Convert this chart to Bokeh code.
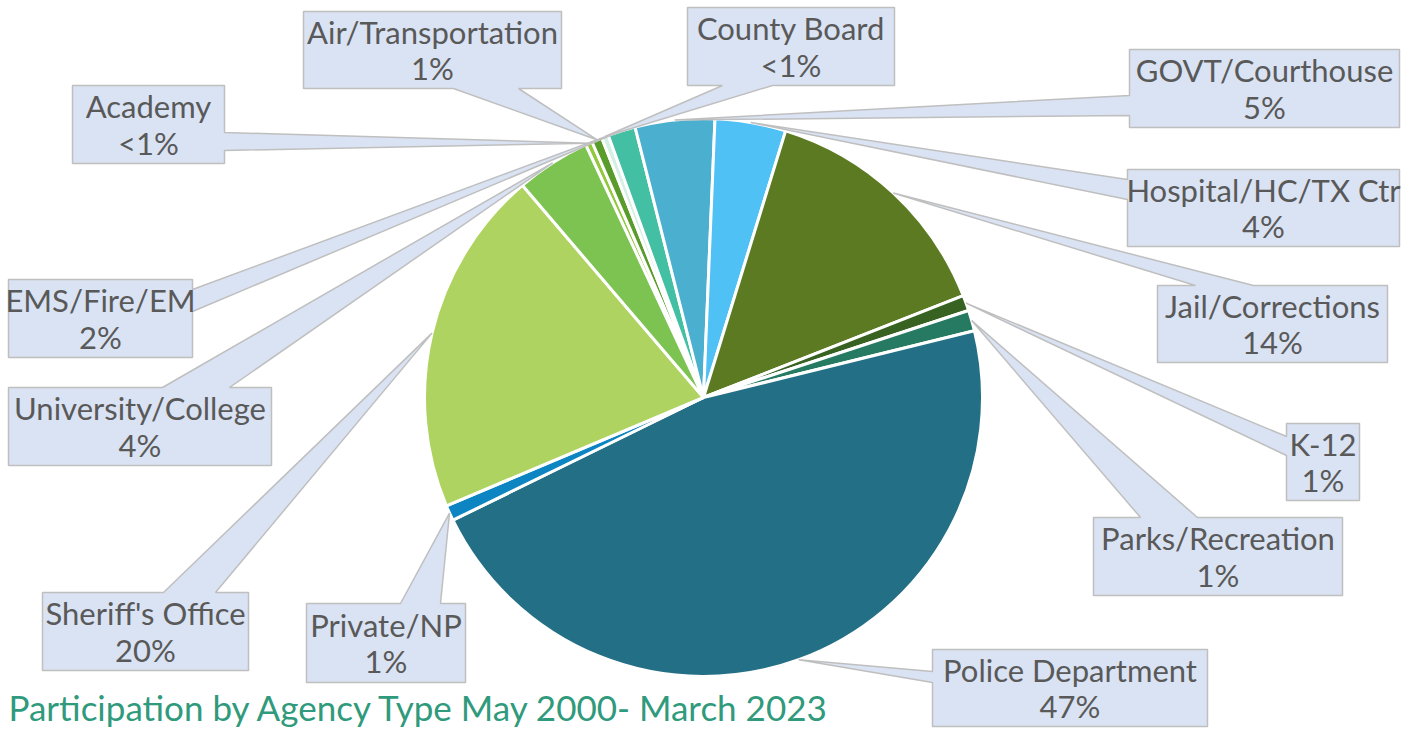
import math
from bokeh.plotting import figure
from bokeh.models import Range1d
from bokeh.core.properties import value
from bokeh.embed import file_html
from bokeh.resources import INLINE

# ---------------- data ----------------
categories = ["Academy", "Air/Transportation", "County Board", "EMS/Fire/EM",
              "GOVT/Courthouse", "Hospital/HC/TX Ctr", "Jail/Corrections", "K-12",
              "Parks/Recreation", "Police Department", "Private/NP",
              "Sheriff's Office", "University/College"]
shares = [0.4, 0.6, 0.4, 1.6, 4.6, 4.1, 14.3, 0.9, 1.2, 46.6, 0.9, 20.1, 4.3]
pct_labels = ["<1%", "1%", "<1%", "2%", "5%", "4%", "14%", "1%", "1%",
              "47%", "1%", "20%", "4%"]
colors = ["#93c83e", "#5a9c2c", "#d4efe3", "#43bfa3", "#4bafd0", "#4fc1f5",
          "#5b7a21", "#386222", "#277a62", "#236f85", "#0d85c2", "#aed360",
          "#7dc352"]
title_text = "Participation by Agency Type May 2000- March 2023"

# ---------------- layout (reference pixel coords, y downward) ----------------
H = 744
CX, CY, R = 703, 397, 279
FIRST_ANGLE = 335.0  # clockwise from 12 o'clock

# left, top, right, bottom, pointer side, base a, base b
boxes = {
    "Academy":            (72, 85, 224, 163, "right", 132, 150),
    "Air/Transportation": (303, 11, 561, 88, "bottom", 453, 518),
    "County Board":       (687, 7, 894, 85, "bottom", 722, 772),
    "EMS/Fire/EM":        (8, 279, 192, 357, "right", 289, 311),
    "GOVT/Courthouse":    (1129, 49, 1399, 127, "left", 95, 115),
    "Hospital/HC/TX Ctr": (1127, 169, 1399, 246, "left", 179, 199),
    "Jail/Corrections":   (1157, 285, 1387, 362, "top", 1195, 1253),
    "K-12":               (1286, 423, 1359, 500, "left", 436, 455),
    "Parks/Recreation":   (1093, 517, 1342, 595, "top", 1140, 1197),
    "Police Department":  (932, 649, 1207, 726, "left", 671, 682),
    "Private/NP":         (306, 603, 465, 682, "top", 400, 440),
    "Sheriff's Office":   (42, 592, 248, 670, "top", 163, 215),
    "University/College": (8, 387, 271, 465, "top", 162, 229),
}

p = figure(width=1401, height=728, x_range=Range1d(0, 1401), y_range=Range1d(16, 744),
           output_backend="svg", toolbar_location=None, min_border=0,
           x_axis_location=None, y_axis_location=None)
p.grid.visible = False
p.outline_line_color = None
p.background_fill_color = "white"
p.border_fill_color = "white"

total = sum(shares)
starts, ends, mids = [], [], []
c = FIRST_ANGLE
for s in shares:
    span = s / total * 360.0
    starts.append(c)
    ends.append(c + span)
    mids.append(c + span / 2)
    c += span

p.wedge(x=[CX] * len(shares), y=[H - CY] * len(shares), radius=R,
        start_angle=[math.radians(90 - e) for e in ends],
        end_angle=[math.radians(90 - s) for s in starts],
        fill_color=colors, line_color="white", line_width=3)

xs, ys, tx, ty, tt = [], [], [], [], []
for cat, pct, m in zip(categories, pct_labels, mids):
    l, t, r, b, side, a, bb = boxes[cat]
    ax = CX + R * math.sin(math.radians(m))
    ay = CY - R * math.cos(math.radians(m))
    if side == "top":
        pts = [(l, t), (a, t), (ax, ay), (bb, t), (r, t), (r, b), (l, b)]
    elif side == "right":
        pts = [(l, t), (r, t), (r, a), (ax, ay), (r, bb), (r, b), (l, b)]
    elif side == "bottom":
        pts = [(l, t), (r, t), (r, b), (bb, b), (ax, ay), (a, b), (l, b)]
    else:
        pts = [(l, t), (r, t), (r, b), (l, b), (l, bb), (ax, ay), (l, a)]
    xs.append([q[0] for q in pts])
    ys.append([H - q[1] for q in pts])
    tx.append((l + r) / 2)
    ty.append(H - (t + b) / 2)
    tt.append(cat + "\n" + pct)

p.patches(xs=xs, ys=ys, fill_color="#dae3f3", line_color="#bfbfbf", line_width=1.5)
p.text(x=tx, y=ty, text=tt, text_align="center", text_baseline="middle",
       text_font=value("Lato"), text_font_size="31px", text_color="#595959",
       text_line_height=0.97)

p.text(x=[8], y=[H - 727], text=[title_text], text_align="left",
       text_baseline="bottom", text_font=value("Lato"), text_font_size="35px",
       text_color="#2f9a7c")

open("out.html", "w").write(file_html(p, INLINE))
